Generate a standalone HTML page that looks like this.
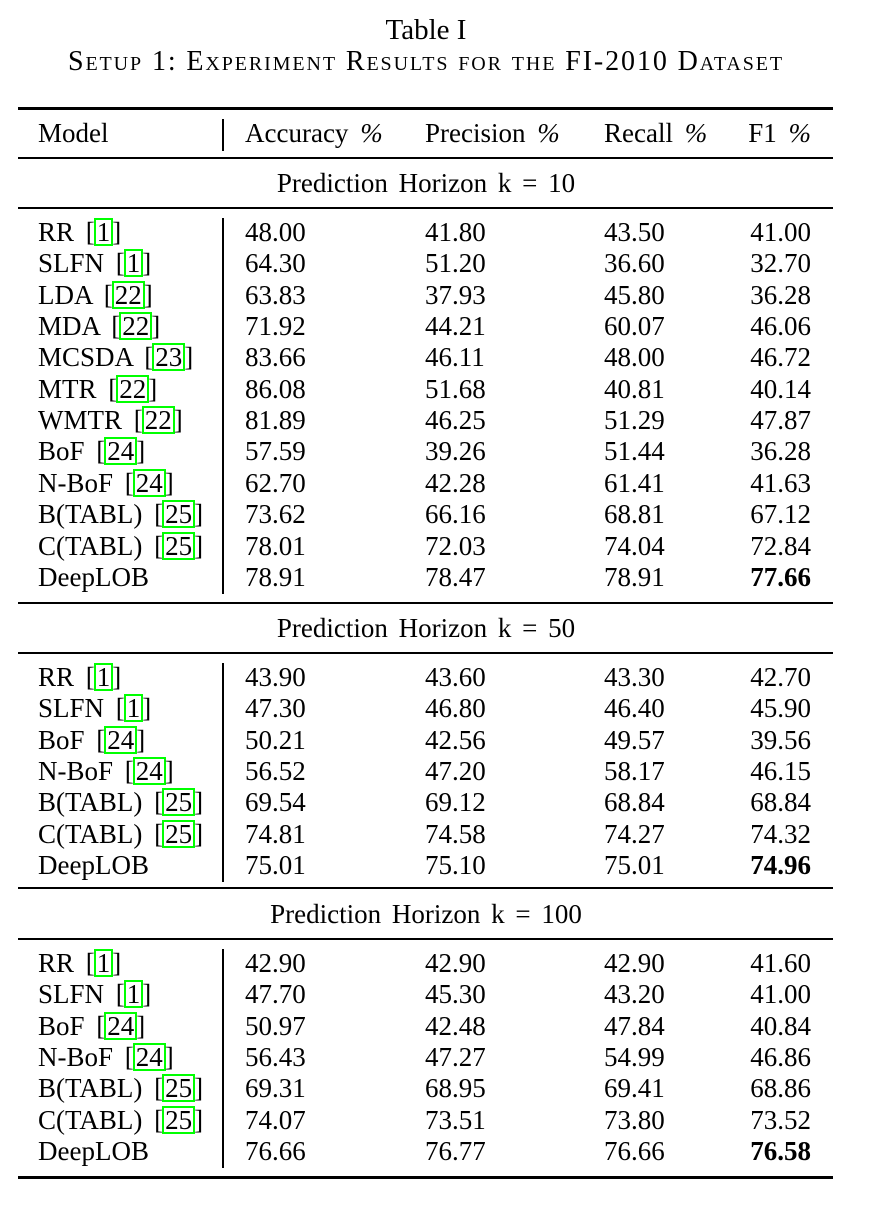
<!DOCTYPE html>
<html><head><meta charset="utf-8">
<style>
html,body{margin:0;padding:0;background:#fff;}
body{width:876px;height:1206px;position:relative;overflow:hidden;font-family:"Liberation Serif",serif;color:#000;}
.t{position:absolute;font-size:27px;line-height:32px;white-space:nowrap;}
.r{position:absolute;background:#000;left:18px;width:815px;}
.v{position:absolute;background:#000;left:222px;width:1.5px;}
.c{display:inline-block;border:2px solid #00ff00;line-height:24px;padding:0 1px;margin:0 -1px;}
</style></head><body>
<div class="t" style="left:0;width:852px;text-align:center;top:14px;font-size:29px;">Table I</div>
<div class="t" style="left:0;width:852px;text-align:center;top:46px;font-size:28px;font-variant:small-caps;letter-spacing:1.9px;">Setup 1: Experiment Results for the FI-2010 Dataset</div>
<div id="tbl"></div>
<script>
const models1=["RR|1","SLFN|1","LDA|22","MDA|22","MCSDA|23","MTR|22","WMTR|22","BoF|24","N-BoF|24","B(TABL)|25","C(TABL)|25","DeepLOB|"];
const acc1=["48.00","64.30","63.83","71.92","83.66","86.08","81.89","57.59","62.70","73.62","78.01","78.91"];
const pre1=["41.80","51.20","37.93","44.21","46.11","51.68","46.25","39.26","42.28","66.16","72.03","78.47"];
const rec1=["43.50","36.60","45.80","60.07","48.00","40.81","51.29","51.44","61.41","68.81","74.04","78.91"];
const f11=["41.00","32.70","36.28","46.06","46.72","40.14","47.87","36.28","41.63","67.12","72.84","77.66"];
const models2=["RR|1","SLFN|1","BoF|24","N-BoF|24","B(TABL)|25","C(TABL)|25","DeepLOB|"];
const acc2=["43.90","47.30","50.21","56.52","69.54","74.81","75.01"];
const pre2=["43.60","46.80","42.56","47.20","69.12","74.58","75.10"];
const rec2=["43.30","46.40","49.57","58.17","68.84","74.27","75.01"];
const f12=["42.70","45.90","39.56","46.15","68.84","74.32","74.96"];
const acc3=["42.90","47.70","50.97","56.43","69.31","74.07","76.66"];
const pre3=["42.90","45.30","42.48","47.27","68.95","73.51","76.77"];
const rec3=["42.90","43.20","47.84","54.99","69.41","73.80","76.66"];
const f13=["41.60","41.00","40.84","46.86","68.86","73.52","76.58"];
const headers=["Model","Accuracy %","Precision %","Recall %","F1 %"];
const horizons=["10","50","100"];

const T=document.getElementById('tbl');
function txt(x,cy,html,extra){
  const d=document.createElement('div');
  d.className='t';
  d.style.left=x+'px';
  d.style.top=(cy-16)+'px';
  if(extra) d.style.cssText+=extra;
  d.innerHTML=html;
  T.appendChild(d);
  return d;
}
function rule(y,h){
  const d=document.createElement('div');
  d.className='r';
  d.style.top=y+'px';d.style.height=h+'px';
  
  
  T.appendChild(d);
}
function vline(y1,y2){
  const d=document.createElement('div');
  d.className='v';
  d.style.top=y1+'px';d.style.height=(y2-y1)+'px';
  
  
  T.appendChild(d);
}
const colX=[38,245,425,604];
rule(107,3);
headers.forEach((h,i)=>{
  const e= i<4 ? txt(colX[i],133,h.replace('%','<i>%</i>'),'word-spacing:5px;') : txt(700,133,h.replace('%','<i>%</i>'),'width:111px;text-align:right;word-spacing:5px;');
  
  
});
vline(119,151);
rule(157,1.5);
function block(hdrY,models,a,p,r,f,k){
  const h=txt(0,hdrY,'Prediction Horizon k = '+k,'width:852px;text-align:center;word-spacing:4px;');
  
  
  rule(hdrY+24,1.5);
  const y0=hdrY+49, pitch=31.35;
  models.forEach((m,i)=>{
    const cy=y0+i*pitch;
    const [nm,ref]=m.split('|');
    const me=txt(38,cy,nm+(ref?' [<span class="c">'+ref+'</span>]':''),'word-spacing:5px;');
    
    
    const ae=txt(245,cy,a[i]);
    
    
    const pe=txt(425,cy,p[i]);
    
    
    const re=txt(604,cy,r[i]);
    
    
    const bold = i===models.length-1;
    const fe=txt(700,cy,f[i],'width:111px;text-align:right;'+(bold?'font-weight:bold;':''));
    
    
  });
  vline(y0-14,y0+(models.length-1)*pitch+17);
  return y0+(models.length-1)*pitch;
}
let last=block(183,models1,acc1,pre1,rec1,f11,horizons[0]);
rule(602,1.5);
last=block(628,models2,acc2,pre2,rec2,f12,horizons[1]);
rule(887,1.5);
last=block(914,models2,acc3,pre3,rec3,f13,horizons[2]);
rule(1176,3);
</script>
</body></html>
